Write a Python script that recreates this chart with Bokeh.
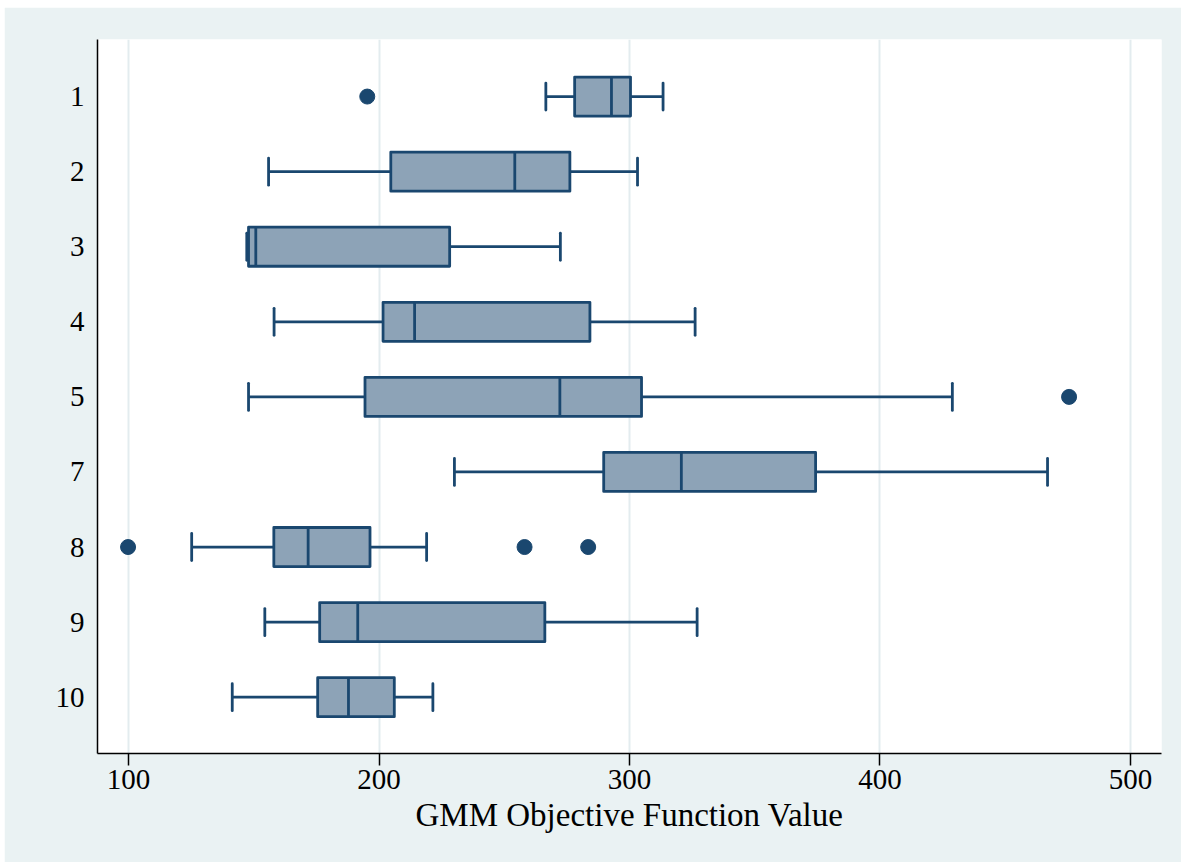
from bokeh.plotting import figure
from bokeh.models import Range1d, FixedTicker, ColumnDataSource, Spacer
from bokeh.layouts import column, row
from bokeh.embed import file_html
from bokeh.resources import INLINE

# ---- data ----
categories = ["1", "2", "3", "4", "5", "7", "8", "9", "10"]
whisk_lo = [266.6, 155.9, 147.2, 158.1, 147.9, 230.1, 125.2, 154.4, 141.4]
q1       = [278.1, 204.7, 147.9, 201.6, 194.4, 289.7, 158.0, 176.3, 175.5]
median   = [292.8, 254.2, 150.8, 214.2, 272.2, 320.7, 171.7, 191.5, 187.8]
q3       = [300.4, 276.2, 228.2, 284.2, 304.8, 374.3, 196.4, 266.2, 206.1]
whisk_hi = [313.4, 303.2, 272.4, 326.2, 428.9, 466.9, 219.0, 327.0, 221.5]
outlier_cat = ["1", "5", "8", "8", "8"]
outlier_val = [195.3, 475.5, 99.8, 258.1, 283.5]
x_ticks = [100, 200, 300, 400, 500]
x_title = "GMM Objective Function Value"

NAVY = "#1A476F"
FILL = "#8DA3B7"
BG = "#EAF2F3"
FONT = "Liberation Serif"
LW = 2.8

pos = {c: i + 1 for i, c in enumerate(categories)}
ys = [pos[c] for c in categories]
BOX_H = 0.52
CAP_H = 0.36

src = ColumnDataSource(dict(y=ys, lo=whisk_lo, q1=q1, med=median, q3=q3, hi=whisk_hi,
                            y0=[y - BOX_H / 2 for y in ys], y1=[y + BOX_H / 2 for y in ys],
                            c0=[y - CAP_H / 2 for y in ys], c1=[y + CAP_H / 2 for y in ys]))

p = figure(width=1177, height=855, output_backend="svg", toolbar_location=None,
           x_range=Range1d(87.6, 512.4), y_range=Range1d(9.75, 0.24),
           min_border_left=93, min_border_right=20, min_border_top=32, min_border_bottom=109)
p.background_fill_color = "white"
p.border_fill_color = BG
p.outline_line_color = None

# whiskers
p.segment(x0="lo", y0="y", x1="q1", y1="y", source=src, line_color=NAVY, line_width=LW)
p.segment(x0="q3", y0="y", x1="hi", y1="y", source=src, line_color=NAVY, line_width=LW)
# caps
p.segment(x0="lo", y0="c0", x1="lo", y1="c1", source=src, line_color=NAVY, line_width=LW,
          line_cap="round")
p.segment(x0="hi", y0="c0", x1="hi", y1="c1", source=src, line_color=NAVY, line_width=LW,
          line_cap="round")
# boxes
p.quad(left="q1", right="q3", bottom="y0", top="y1", source=src,
       fill_color=FILL, line_color=NAVY, line_width=LW, line_join="round")
# medians
p.segment(x0="med", y0="y0", x1="med", y1="y1", source=src, line_color=NAVY, line_width=LW)
# outliers
p.scatter(x=outlier_val, y=[pos[c] for c in outlier_cat], size=15,
          fill_color=NAVY, line_color=NAVY)

# axes
p.xaxis.ticker = FixedTicker(ticks=x_ticks)
p.xaxis.axis_label = x_title
p.xaxis.axis_label_text_font = FONT
p.xaxis.axis_label_text_font_style = "normal"
p.xaxis.axis_label_text_font_size = "33px"
p.xaxis.axis_label_text_color = "black"
p.xaxis.axis_label_standoff = 5
p.xaxis.major_label_text_font = FONT
p.xaxis.major_label_text_font_size = "29px"
p.xaxis.major_label_text_color = "black"
p.xaxis.major_label_standoff = 4
p.xaxis.major_tick_out = 12
p.xaxis.major_tick_in = 0
p.xaxis.minor_tick_out = 0
p.xaxis.minor_tick_in = 0
p.xaxis.axis_line_color = "black"
p.xaxis.axis_line_width = 1.5
p.xaxis.major_tick_line_color = "black"
p.xaxis.major_tick_line_width = 1.5

p.yaxis.ticker = FixedTicker(ticks=ys)
p.yaxis.major_label_overrides = {pos[c]: c for c in categories}
p.yaxis.major_label_text_font = FONT
p.yaxis.major_label_text_font_size = "29px"
p.yaxis.major_label_text_color = "black"
p.yaxis.major_label_standoff = 13
p.yaxis.major_tick_out = 0
p.yaxis.major_tick_in = 0
p.yaxis.minor_tick_out = 0
p.yaxis.minor_tick_in = 0
p.yaxis.axis_line_color = "black"
p.yaxis.axis_line_width = 1.5

p.xgrid.grid_line_color = "#E3ECEF"
p.xgrid.grid_line_width = 2
p.ygrid.grid_line_color = None

layout = column(Spacer(height=7), row(Spacer(width=4), p))
open("out.html", "w").write(file_html(layout, INLINE))
